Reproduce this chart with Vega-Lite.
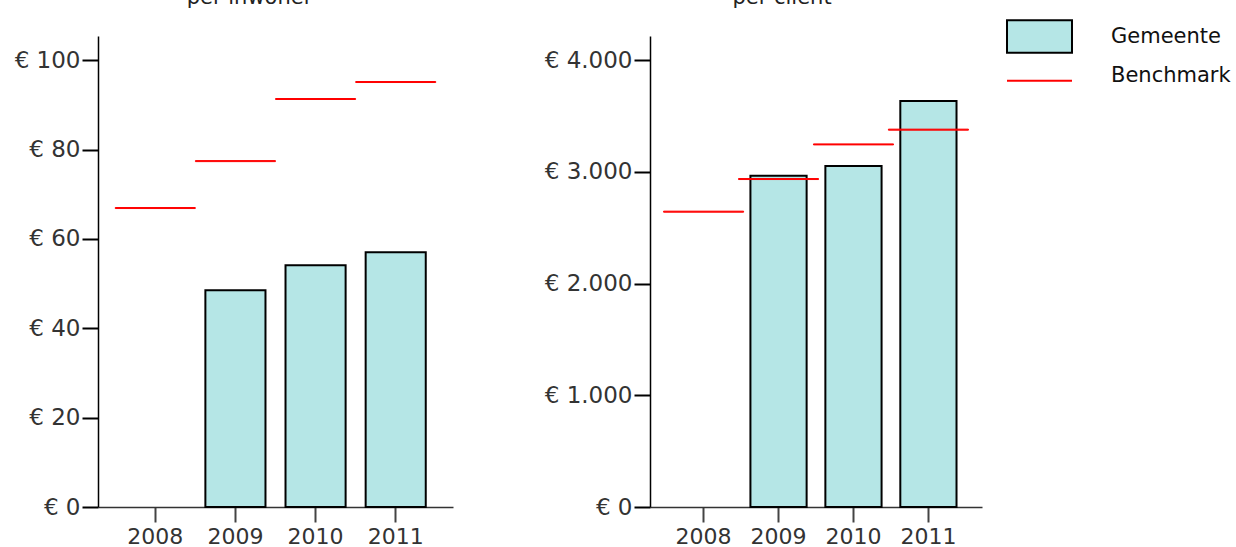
{
  "$schema": "https://vega.github.io/schema/vega-lite/v6.json",
  "padding": {"left": 14, "top": -13, "right": 0, "bottom": 0},
  "background": "white",
  "config": {
    "font": "DejaVu Sans",
    "view": {"stroke": null},
    "concat": {"spacing": 91},
    "title": {"fontSize": 21, "fontWeight": "normal", "color": "#222", "offset": 28, "anchor": "middle"},
    "axis": {"grid": false, "title": null, "labelFont": "DejaVu Sans"},
    "axisY": {"domainColor": "black", "domainWidth": 1.5, "tickColor": "black", "tickWidth": 2, "tickSize": 16, "labelPadding": 2, "labelFontSize": 23, "labelColor": "#333"},
    "axisX": {"domainColor": "#333", "domainWidth": 1.5, "tickColor": "#444", "tickWidth": 2, "tickSize": 15, "labelPadding": 4, "labelFontSize": 22, "labelColor": "#333", "labelAngle": 0},
    "legend": {"labelFontSize": 21, "labelColor": "#111", "labelFont": "DejaVu Sans", "symbolSize": 1056, "labelOffset": 54, "symbolStrokeWidth": 2, "symbolOpacity": 1}
  },
  "datasets": {
    "inw": [
      {"jaar": "2008", "gemeente": null, "benchmark": 66.9},
      {"jaar": "2009", "gemeente": 48.5, "benchmark": 77.4},
      {"jaar": "2010", "gemeente": 54.1, "benchmark": 91.3},
      {"jaar": "2011", "gemeente": 57.0, "benchmark": 95.1}
    ],
    "cli": [
      {"jaar": "2008", "gemeente": null, "benchmark": 2643},
      {"jaar": "2009", "gemeente": 2965, "benchmark": 2935},
      {"jaar": "2010", "gemeente": 3051, "benchmark": 3245},
      {"jaar": "2011", "gemeente": 3633, "benchmark": 3377}
    ]
  },
  "resolve": {"scale": {"x": "independent", "y": "independent", "fill": "shared", "stroke": "shared"}},
  "hconcat": [
    {
      "title": {"text": "per inwoner", "dx": -26},
      "width": 355,
      "height": 471,
      "data": {"name": "inw"},
      "encoding": {
        "x": {"field": "jaar", "type": "ordinal", "scale": {"paddingInner": 0.25, "paddingOuter": 0.34}, "axis": {"title": null}}
      },
      "layer": [
        {
          "mark": {"type": "bar", "stroke": "black", "strokeWidth": 2, "opacity": 1},
          "encoding": {
            "y": {"field": "gemeente", "type": "quantitative", "scale": {"domain": [0, 105.4], "nice": false, "zero": true}, "axis": {"values": [0, 20, 40, 60, 80, 100], "labelExpr": "'€ ' + datum.value"}},
            "fill": {"datum": "Gemeente", "type": "nominal", "scale": {"domain": ["Gemeente"], "range": ["#b5e6e6"]},
              "legend": {"title": null, "orient": "none", "legendX": 924, "legendY": -17, "symbolType": "M-2,-1H2V1H-2Z", "symbolStrokeColor": "black", "symbolStrokeWidth": 2}}
          }
        },
        {
          "mark": {"type": "tick", "size": 80, "thickness": 1, "strokeWidth": 1, "fill": "#ff0000", "opacity": 1},
          "encoding": {
            "y": {"field": "benchmark", "type": "quantitative"},
            "stroke": {"datum": "Benchmark", "type": "nominal", "scale": {"domain": ["Benchmark"], "range": ["#ff0000"]},
              "legend": {"title": null, "orient": "none", "legendX": 924, "legendY": 22.5, "symbolType": "M-2,0.3H2", "symbolStrokeWidth": 2}}
          }
        }
      ]
    },
    {
      "title": {"text": "per cliënt", "dx": -34},
      "width": 332,
      "height": 471,
      "data": {"name": "cli"},
      "encoding": {
        "x": {"field": "jaar", "type": "ordinal", "scale": {"paddingInner": 0.25, "paddingOuter": 0.34}, "axis": {"title": null}}
      },
      "layer": [
        {
          "mark": {"type": "bar", "stroke": "black", "strokeWidth": 2, "opacity": 1},
          "encoding": {
            "y": {"field": "gemeente", "type": "quantitative", "scale": {"domain": [0, 4215], "nice": false, "zero": true}, "axis": {"values": [0, 1000, 2000, 3000, 4000], "labelExpr": "'€ ' + replace(format(datum.value, ','), ',', '.')"}},
            "fill": {"datum": "Gemeente", "type": "nominal"}
          }
        },
        {
          "mark": {"type": "tick", "size": 80, "thickness": 1, "strokeWidth": 1, "fill": "#ff0000", "opacity": 1},
          "encoding": {
            "y": {"field": "benchmark", "type": "quantitative"},
            "stroke": {"datum": "Benchmark", "type": "nominal"}
          }
        }
      ]
    }
  ]
}
